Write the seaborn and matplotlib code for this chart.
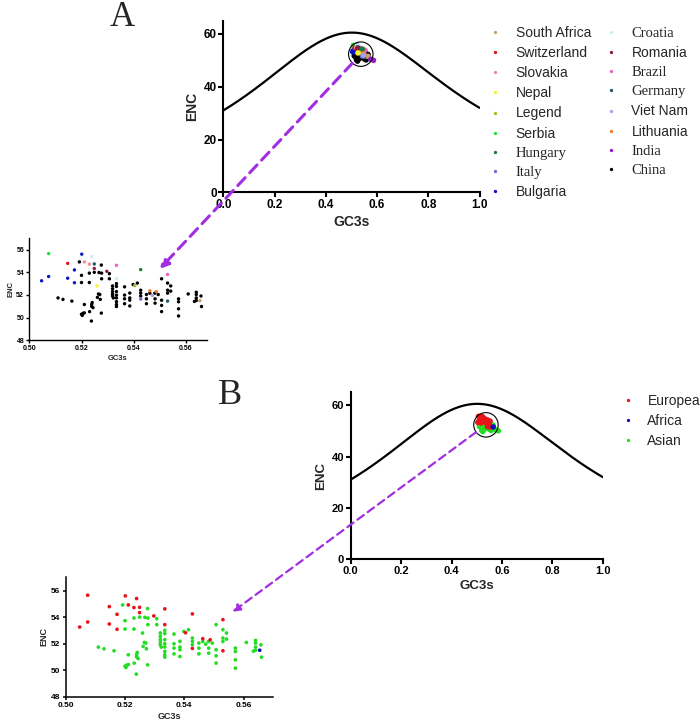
import numpy as np
import pandas as pd
import matplotlib
matplotlib.use("Agg")
import matplotlib.pyplot as plt
import seaborn as sns
from matplotlib.patches import ConnectionPatch

# ---- data ----
# China (black in A, Asian/green in B)
china_gc3s = [0.5110, 0.5129, 0.5163, 0.5192, 0.5200, 0.5200, 0.5200, 0.5206, 0.5203, 0.5211,
              0.5211, 0.5230, 0.5230, 0.5231, 0.5238, 0.5239, 0.5239, 0.5241, 0.5244, 0.5249,
              0.5261, 0.5265, 0.5270, 0.5276, 0.5267, 0.5277, 0.5272, 0.5276, 0.5307, 0.5277,
              0.5307, 0.5319, 0.5319, 0.5319, 0.5319, 0.5319, 0.5322, 0.5334, 0.5334, 0.5334,
              0.5334, 0.5334, 0.5334, 0.5334, 0.5334, 0.5365, 0.5365, 0.5365, 0.5365, 0.5385,
              0.5385, 0.5385, 0.5385, 0.5398, 0.5414, 0.5427, 0.5427, 0.5427, 0.5449, 0.5449,
              0.5449, 0.5462, 0.5481, 0.5494, 0.5482, 0.5482, 0.5507, 0.5507, 0.5507, 0.5507,
              0.5530, 0.5530, 0.5530, 0.5542, 0.5542, 0.5572, 0.5572, 0.5572, 0.5572, 0.5609,
              0.5640, 0.5640, 0.5640, 0.5640, 0.5658, 0.5660, 0.5633]
china_enc = [51.74, 51.61, 51.46, 54.92, 53.73, 53.10, 50.30, 50.38, 50.20, 50.42,
             51.16, 53.93, 53.10, 50.53, 49.70, 51.00, 51.16, 51.33, 50.88, 54.00,
             51.79, 52.09, 52.04, 54.64, 53.98, 53.93, 51.61, 50.40, 53.88, 53.43,
             53.43, 52.80, 52.55, 52.30, 52.09, 51.91, 51.74, 53.00, 52.75, 52.30,
             51.99, 51.74, 51.41, 51.16, 50.98, 52.72, 51.99, 51.66, 51.23, 52.17,
             51.74, 51.54, 51.03, 52.92, 53.05, 52.42, 52.17, 51.91, 52.04, 51.66,
             51.23, 52.16, 52.16, 52.04, 51.66, 51.28, 53.43, 51.54, 51.08, 50.53,
             53.05, 52.42, 52.16, 52.80, 52.34, 51.66, 51.40, 50.78, 50.15, 52.09,
             52.24, 52.04, 51.74, 51.51, 51.91, 50.98, 51.43]

# the other countries
other_country = ["Bulgaria", "Bulgaria", "Bulgaria", "Bulgaria", "Bulgaria", "Bulgaria",
                 "Serbia", "Switzerland", "Slovakia", "Slovakia", "Brazil", "Brazil",
                 "Croatia", "Croatia", "Germany", "Germany", "Romania", "Romania",
                 "Legend", "Hungary", "Italy", "Lithuania", "Lithuania", "Viet Nam",
                 "Nepal", "South Africa", "India", "India"]
other_gc3s = [0.5047, 0.5074, 0.5147, 0.5173, 0.5173, 0.5201,
              0.5074, 0.5147, 0.5211, 0.5230, 0.5334, 0.5530,
              0.5239, 0.5334, 0.5249, 0.5530, 0.5249, 0.5297,
              0.5404, 0.5427, 0.5427, 0.5462, 0.5487, 0.5472,
              0.5259, 0.5654, 0.5760, 0.5860]
other_enc = [53.25, 53.63, 53.48, 54.21, 53.08, 55.60,
             55.65, 54.79, 54.92, 54.72, 54.62, 53.81,
             55.40, 53.43, 54.74, 51.46, 54.34, 54.09,
             52.82, 54.24, 51.64, 52.37, 52.29, 51.96,
             52.80, 51.50, 50.40, 50.00]

country_order = ["South Africa", "Switzerland", "Slovakia", "Nepal", "Legend", "Serbia",
                 "Hungary", "Italy", "Bulgaria", "Croatia", "Romania", "Brazil", "Germany",
                 "Viet Nam", "Lithuania", "India", "China"]
country_colors = {"South Africa": "#c4a070", "Switzerland": "#e8101e", "Slovakia": "#f08a96",
                  "Nepal": "#f5f522", "Legend": "#b5b529", "Serbia": "#22e03a",
                  "Hungary": "#1e7a2e", "Italy": "#6a6ae0", "Bulgaria": "#0a14c8",
                  "Croatia": "#c8f0ee", "Romania": "#8c1a46", "Brazil": "#ee5ec8",
                  "Germany": "#1e5a66", "Viet Nam": "#a8a0ee", "Lithuania": "#f0782a",
                  "India": "#9a18c8", "China": "#000000"}
serif_labels = ["Hungary", "Italy", "Croatia", "Brazil", "Germany", "India", "China"]

asian = ["Nepal", "Viet Nam", "India", "China"]
african = ["South Africa"]
region_order = ["European", "Africa", "Asian"]
region_colors = {"European": "#e8141c", "Africa": "#1010b8", "Asian": "#22dd22"}

df = pd.DataFrame({
    "GC3s": china_gc3s + other_gc3s,
    "ENC": china_enc + other_enc,
    "Country": ["China"] * len(china_gc3s) + other_country,
})
df["Region"] = ["Asian" if c in asian else "Africa" if c in african else "European"
                for c in df["Country"]]

# expected ENC curve (Wright)
gc = np.linspace(0, 1, 300)
enc_expected = 2 + gc + 29 / (gc ** 2 + (1 - gc) ** 2)

# ---- style ----
sns.set_style("ticks")
plt.rcParams['font.family'] = ['Liberation Sans', 'DejaVu Sans']
plt.rcParams['font.weight'] = 'bold'
purple = "#a12ee0"

fig = plt.figure(figsize=(7, 7.27), dpi=100)
axA = fig.add_axes([0.319, 0.7355, 0.366, 0.236])
axAi = fig.add_axes([0.0419, 0.5319, 0.2534, 0.1403])
axB = fig.add_axes([0.501, 0.2307, 0.36, 0.2297])
axBi = fig.add_axes([0.0939, 0.0417, 0.2966, 0.1642])


def style_axis(ax, lw, ticksize, labelsize, xlim, ylim, xticks, yticks, xfmt, labelpad):
    ax.set_xlim(*xlim)
    ax.set_ylim(*ylim)
    ax.set_xticks(xticks)
    ax.set_yticks(yticks)
    ax.set_xticklabels([xfmt.format(v) for v in xticks], fontsize=ticksize, fontweight='bold')
    ax.set_yticklabels([f"{v:g}" for v in yticks], fontsize=ticksize, fontweight='bold')
    ax.set_xlabel("GC3s", fontsize=labelsize, fontweight='bold', labelpad=labelpad)
    ax.set_ylabel("ENC", fontsize=labelsize, fontweight='bold', labelpad=labelpad)
    sns.despine(ax=ax)
    for s in ["left", "bottom"]:
        ax.spines[s].set_linewidth(lw)
        ax.spines[s].set_color("black")
    ax.tick_params(width=lw, length=lw * 2.2, pad=1.5, colors="black")
    ax.set_facecolor("none")


order_A = df.assign(o=(df["Country"] != "China")).sort_values("o", kind="stable")
order_B = df.assign(o=df["Region"].map({"Asian": 0, "European": 1, "Africa": 2})).sort_values("o", kind="stable")

# ---- panel A ----
sns.lineplot(x=gc, y=enc_expected, ax=axA, color="black", lw=1.6)
sns.scatterplot(data=order_A, x="GC3s", y="ENC", hue="Country", hue_order=country_order,
                palette=country_colors, s=16, linewidth=0, ax=axA, legend="full")
hA, lA = axA.get_legend_handles_labels()
axA.get_legend().remove()
cA = (df["GC3s"].mean(), df["ENC"].mean())
axA.scatter([cA[0]], [cA[1]], s=310, facecolors="none", edgecolors="black", linewidths=0.8)
style_axis(axA, 1.5, 8.5, 10, (0, 1), (0, 65), [0, 0.2, 0.4, 0.6, 0.8, 1.0],
           [0, 20, 40, 60], "{:.1f}", 3)

sns.scatterplot(data=order_A, x="GC3s", y="ENC", hue="Country", hue_order=country_order,
                palette=country_colors, s=6, linewidth=0, ax=axAi, legend=False)
style_axis(axAi, 1.0, 5, 5.5, (0.50, 0.568), (48, 57), [0.50, 0.52, 0.54, 0.56],
           [48, 50, 52, 54, 56], "{:.2f}", 1.5)

legA = fig.legend(hA, lA, loc="upper left", bbox_to_anchor=(490.8 / 700, 1 - 26 / 727),
                  ncol=2, frameon=False, fontsize=10, handlelength=0.6, handletextpad=1.2,
                  columnspacing=1.1, labelspacing=0.44, borderpad=0, borderaxespad=0,
                  markerscale=0.6)
for t in legA.get_texts():
    t.set_fontweight("normal")
    if t.get_text() in serif_labels:
        t.set_fontfamily(["Liberation Serif", "DejaVu Serif"])
        t.set_fontsize(10.5)

conA = ConnectionPatch(xyA=cA, coordsA=axA.transData, xyB=(0.735, 0.70), coordsB=axAi.transAxes,
                       arrowstyle="-|>", linestyle=(0, (3.5, 2.2)), color=purple, lw=2.2,
                       shrinkA=9, shrinkB=0, mutation_scale=13)
fig.add_artist(conA)

# ---- panel B ----
sns.lineplot(x=gc, y=enc_expected, ax=axB, color="black", lw=1.6)
sns.scatterplot(data=order_B, x="GC3s", y="ENC", hue="Region", hue_order=region_order,
                palette=region_colors, s=16, linewidth=0, ax=axB, legend="full")
hB, lB = axB.get_legend_handles_labels()
axB.get_legend().remove()
axB.scatter([cA[0]], [cA[1]], s=310, facecolors="none", edgecolors="black", linewidths=0.8)
style_axis(axB, 1.5, 8, 9.5, (0, 1), (0, 65), [0, 0.2, 0.4, 0.6, 0.8, 1.0],
           [0, 20, 40, 60], "{:.1f}", 3)

sns.scatterplot(data=order_B, x="GC3s", y="ENC", hue="Region", hue_order=region_order,
                palette=region_colors, s=7, linewidth=0, ax=axBi, legend=False)
style_axis(axBi, 1.1, 6, 6.5, (0.50, 0.57), (48, 57), [0.50, 0.52, 0.54, 0.56],
           [48, 50, 52, 54, 56], "{:.2f}", 2)

legB = fig.legend(hB, lB, loc="upper left", bbox_to_anchor=(623.8 / 700, 1 - 394 / 727),
                  ncol=1, frameon=False, fontsize=10, handlelength=0.6, handletextpad=1.1,
                  labelspacing=0.42, borderpad=0, borderaxespad=0, markerscale=0.6)
for t in legB.get_texts():
    t.set_fontweight("normal")

conB = ConnectionPatch(xyA=cA, coordsA=axB.transData, xyB=(0.803, 0.71), coordsB=axBi.transAxes,
                       arrowstyle="-|>", linestyle=(0, (3.5, 2.2)), color=purple, lw=1.6,
                       shrinkA=9, shrinkB=0, mutation_scale=11)
fig.add_artist(conB)

# panel letters
fig.text(122 / 700, 1 - 18 / 727, "A", family=["Liberation Serif", "DejaVu Serif"],
         fontsize=25, fontweight="normal", ha="center", va="center")
fig.text(230 / 700, 1 - 396 / 727, "B", family=["Liberation Serif", "DejaVu Serif"],
         fontsize=26, fontweight="normal", ha="center", va="center")

fig.savefig("out.png", dpi=100)
